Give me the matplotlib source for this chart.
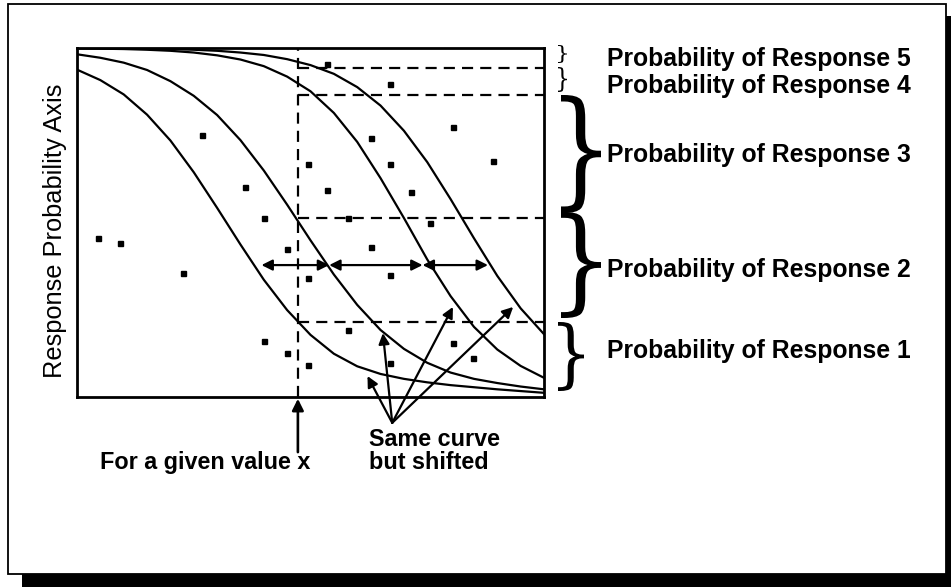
import matplotlib.pyplot as plt
from matplotlib.textpath import TextPath
from matplotlib.patches import PathPatch, Rectangle
from matplotlib.font_manager import FontProperties
from matplotlib.transforms import Affine2D

# curve values (x from 0 to 10, response probability 0..1)
curve_x = [0, 0.5, 1, 1.5, 2, 2.5, 3, 3.5, 4, 4.5, 5, 5.5, 6, 6.5, 7, 7.5, 8, 8.5, 9, 9.5, 10]
curve_1 = [0.938, 0.908, 0.867, 0.809, 0.735, 0.644, 0.542, 0.437, 0.336, 0.249, 0.178,
           0.124, 0.088, 0.066, 0.052, 0.042, 0.034, 0.028, 0.022, 0.017, 0.012]
curve_2 = [0.982, 0.972, 0.958, 0.937, 0.905, 0.863, 0.808, 0.736, 0.649, 0.551, 0.449,
           0.351, 0.264, 0.192, 0.138, 0.098, 0.070, 0.052, 0.040, 0.030, 0.022]
curve_3 = [0.999, 0.998, 0.997, 0.995, 0.992, 0.987, 0.979, 0.967, 0.948, 0.918, 0.876,
           0.814, 0.731, 0.627, 0.513, 0.394, 0.289, 0.201, 0.136, 0.089, 0.055]
curve_4 = [1.0, 1.0, 0.999, 0.998, 0.997, 0.995, 0.992, 0.987, 0.980, 0.968, 0.951,
           0.926, 0.888, 0.835, 0.763, 0.673, 0.567, 0.455, 0.347, 0.254, 0.180]

# scattered observations
dots_x = [5.35, 6.70, 8.05, 2.68, 6.30, 4.95, 6.70, 8.91, 3.60, 5.35, 7.15, 4.00, 5.80, 7.56,
          0.45, 0.92, 4.50, 6.30, 2.27, 4.95, 6.70, 5.80, 8.05, 4.00, 4.50, 4.95, 6.70, 8.48]
dots_y = [0.954, 0.897, 0.774, 0.751, 0.742, 0.668, 0.668, 0.676, 0.602, 0.593, 0.587, 0.513,
          0.513, 0.499, 0.456, 0.441, 0.424, 0.430, 0.355, 0.341, 0.350, 0.192, 0.155, 0.160,
          0.126, 0.092, 0.097, 0.112]

given_x = 4.73
cut_levels = [0.943, 0.865, 0.513, 0.215]
shift_y = 0.378
shift_x = [3.95, 5.40, 7.40, 8.80]
same_from = (6.75, -0.074)
same_to = [(6.22, 0.060), (6.55, 0.183), (8.05, 0.258), (9.34, 0.258)]

labels = ['Probability of Response 5', 'Probability of Response 4',
          'Probability of Response 3', 'Probability of Response 2',
          'Probability of Response 1']

W, H = 951, 587
plt.rcParams['font.family'] = ['Liberation Sans', 'DejaVu Sans']

fig = plt.figure(figsize=(W / 100, H / 100), dpi=100)


def fx(px):
    return px / W


def fy(py):
    return 1 - py / H


# outer frame with drop shadow
fig.add_artist(Rectangle((fx(22), fy(590)), fx(960) - fx(22), fy(16) - fy(590),
                         transform=fig.transFigure, fc='black', ec='none', zorder=-3))
fig.add_artist(Rectangle((fx(8), fy(574)), fx(946) - fx(8), fy(4) - fy(574),
                         transform=fig.transFigure, fc='white', ec='black', lw=1.3, zorder=-2))

ax = fig.add_axes([fx(77), fy(397), fx(544) - fx(77), fy(48) - fy(397)])
ax.set_xlim(0, 10)
ax.set_ylim(0, 1)
ax.set_xticks([])
ax.set_yticks([])
for s in ax.spines.values():
    s.set_linewidth(2.0)

for c in [curve_1, curve_2, curve_3, curve_4]:
    ax.plot(curve_x, c, color='black', lw=1.6)

ax.plot(dots_x, dots_y, 's', color='black', ms=3.6)

ax.vlines(given_x, 0, 1, colors='black', lw=1.6, linestyles=(0, (5, 3.2)))
ax.hlines(cut_levels, given_x, 10, colors='black', lw=1.6, linestyles=(0, (5, 3.2)))

for a, b in zip(shift_x[:-1], shift_x[1:]):
    ax.annotate('', xy=(b, shift_y), xytext=(a, shift_y),
                arrowprops=dict(arrowstyle='<|-|>', color='black', lw=1.6,
                                mutation_scale=16, shrinkA=0, shrinkB=0))

for tip in same_to:
    ax.annotate('', xy=tip, xytext=same_from, annotation_clip=False,
                arrowprops=dict(arrowstyle='-|>', color='black', lw=1.6,
                                mutation_scale=16, shrinkA=0, shrinkB=0))

ax.annotate('', xy=(given_x, -0.005), xytext=(given_x, -0.158), annotation_clip=False,
            arrowprops=dict(arrowstyle='-|>', color='black', lw=1.9,
                            mutation_scale=17, shrinkA=0, shrinkB=0))

# texts
fig.text(fx(55), fy(231), 'Response Probability Axis', rotation=90, ha='center', va='center',
         fontsize=18.3)
for lab, base in zip(labels, [66, 93, 162, 277, 358]):
    fig.text(fx(607), fy(base), lab, fontsize=17.8, fontweight='bold', va='baseline', ha='left')
fig.text(fx(310), fy(469), 'For a given value x', fontsize=16.8, fontweight='bold',
         va='baseline', ha='right')
fig.text(fx(369), fy(446), 'Same curve', fontsize=16.8, fontweight='bold', va='baseline')
fig.text(fx(369), fy(469), 'but shifted', fontsize=16.8, fontweight='bold', va='baseline')


# curly braces drawn from a stretched glyph
def brace(x0, x1, y_top, y_bot):
    tp = TextPath((0, 0), '}', size=1, prop=FontProperties(family='DejaVu Serif'))
    bb = tp.get_extents()
    tr = (Affine2D().translate(-bb.x0, -bb.y0)
          .scale((fx(x1) - fx(x0)) / bb.width, (fy(y_top) - fy(y_bot)) / bb.height)
          .translate(fx(x0), fy(y_bot)))
    fig.add_artist(PathPatch(tr.transform_path(tp), transform=fig.transFigure,
                             fc='black', ec='none'))


brace(558, 567, 45, 63)
brace(558, 567, 67, 92)
brace(561, 601, 95, 213)
brace(561, 601, 212, 318)
brace(558, 584, 322, 391)

fig.savefig('out.png', dpi=100)
